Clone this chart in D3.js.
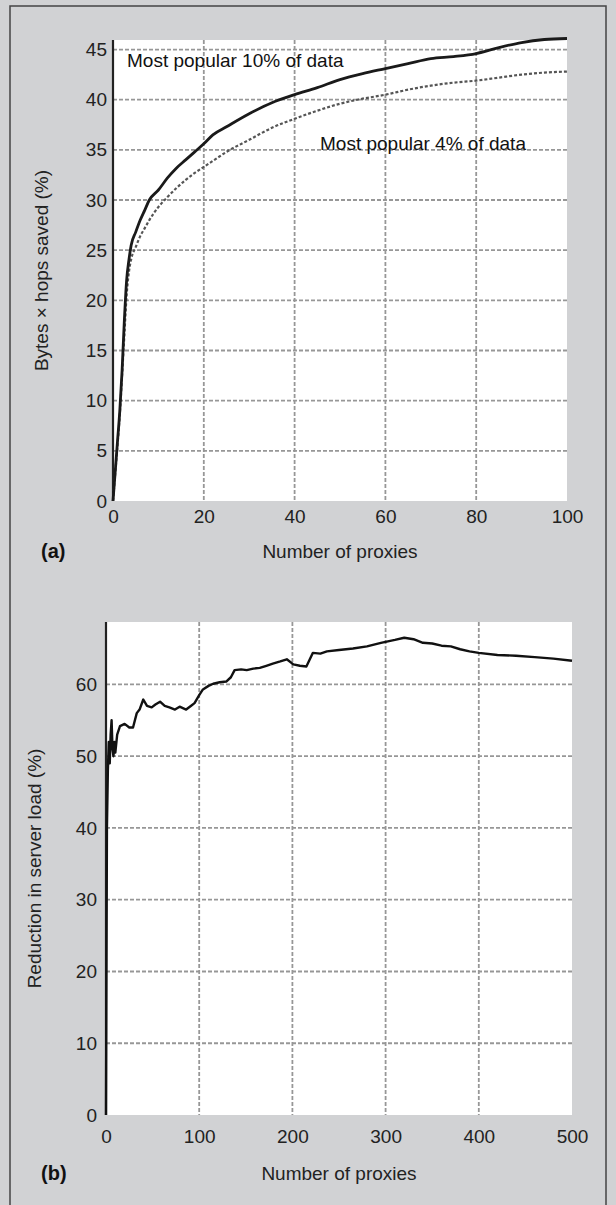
<!DOCTYPE html>
<html>
<head>
<meta charset="utf-8">
<script src="https://cdn.jsdelivr.net/npm/d3@7"></script>
<style>
  html, body { margin: 0; padding: 0; background: #d1d2d4; }
  svg { display: block; font-family: "Liberation Sans", Arial, sans-serif; }
</style>
</head>
<body>
<div id="chart"></div>
<script>
// Panel (a): bytes x hops saved vs number of proxies
const aX = [0, 0.5, 1, 1.5, 2, 2.5, 3, 3.5, 4, 5, 6, 7, 8, 10, 12, 14, 16, 18, 20, 22, 25, 30, 35, 40, 45, 50, 55, 60, 65, 70, 75, 80, 85, 90, 95, 100];
const top10 = [0, 3, 6, 9, 13, 18, 22, 24, 25.5, 26.8, 28, 29, 30, 31, 32.2, 33.2, 34, 34.8, 35.6, 36.5, 37.3, 38.6, 39.7, 40.5, 41.2, 42, 42.6, 43.1, 43.6, 44.1, 44.3, 44.6, 45.2, 45.7, 46, 46.1];
const top4 = [0, 2.8, 5.6, 8.6, 12.5, 16.5, 20.5, 22.8, 24.1, 25.3, 26.4, 27.2, 28, 29.3, 30.3, 31.2, 32, 32.7, 33.3, 33.9, 34.8, 36, 37.2, 38.1, 38.9, 39.6, 40.1, 40.5, 41, 41.4, 41.7, 41.9, 42.2, 42.5, 42.7, 42.8];
const aXTicks = [0, 20, 40, 60, 80, 100];
const aYTicks = [0, 5, 10, 15, 20, 25, 30, 35, 40, 45];

// Panel (b): reduction in server load vs number of proxies
const bX = [0, 0.5, 1, 2, 3, 4, 5, 6, 7, 8, 9, 10, 12, 15, 20, 25, 29, 33, 36, 40, 44, 49, 53, 58, 63, 68, 74, 79, 86, 91, 95, 100, 104, 110, 115, 122, 129, 134, 138, 145, 151, 158, 165, 172, 179, 187, 194, 201, 208, 215, 222, 230, 237, 250, 265, 280, 295, 310, 320, 330, 340, 350, 360, 370, 380, 390, 400, 420, 440, 460, 480, 500];
const load = [0, 20, 40, 48, 52, 49, 53, 55, 51, 50, 52, 50.5, 53, 54.2, 54.5, 54, 54, 56, 56.5, 57.9, 57, 56.8, 57.2, 57.6, 57, 56.8, 56.5, 56.9, 56.5, 57, 57.4, 58.5, 59.3, 59.8, 60.1, 60.3, 60.4, 61, 62, 62.1, 62, 62.2, 62.3, 62.6, 62.9, 63.2, 63.5, 62.8, 62.6, 62.5, 64.4, 64.3, 64.6, 64.8, 65, 65.3, 65.8, 66.2, 66.5, 66.3, 65.8, 65.7, 65.4, 65.3, 64.9, 64.6, 64.4, 64.1, 64, 63.8, 63.6, 63.3];
const bXTicks = [0, 100, 200, 300, 400, 500];
const bYTicks = [0, 10, 20, 30, 40, 50, 60];

const W = 616, H = 1205;
const FS = 19;
const svg = d3.select("#chart").append("svg")
  .attr("width", W).attr("height", H)
  .attr("viewBox", [0, 0, W, H]);

// outer frame
svg.append("rect").attr("width", W).attr("height", H).attr("fill", "#d1d2d4");
svg.append("path")
  .attr("d", `M10,${H + 2}V6H606V${H + 2}`)
  .attr("fill", "none").attr("stroke", "#444").attr("stroke-width", 1.5);

function panel(opt) {
  const x = d3.scaleLinear().domain(opt.xDomain).range([opt.left, opt.right]);
  const y = d3.scaleLinear().domain(opt.yDomain).range([opt.bottom, opt.top]);
  const g = svg.append("g");

  g.append("rect")
    .attr("x", opt.left).attr("y", opt.top)
    .attr("width", opt.right - opt.left).attr("height", opt.bottom - opt.top)
    .attr("fill", "#fff");

  // grid
  const grid = g.append("g").attr("stroke", "#979797").attr("stroke-width", 1.8)
    .attr("stroke-dasharray", "4,2");
  grid.selectAll(".gx").data(opt.xTicks.slice(1, -1)).join("line")
    .attr("x1", d => x(d)).attr("x2", d => x(d))
    .attr("y1", opt.top).attr("y2", opt.bottom);
  grid.selectAll(".gy").data(opt.yTicks.slice(1)).join("line")
    .attr("x1", opt.left).attr("x2", opt.right)
    .attr("y1", d => y(d)).attr("y2", d => y(d));

  // axes (labels only)
  const xa = g.append("g").attr("transform", `translate(0,${opt.bottom})`)
    .call(d3.axisBottom(x).tickValues(opt.xTicks).tickSize(0).tickPadding(opt.xPad));
  const ya = g.append("g").attr("transform", `translate(${opt.left},0)`)
    .call(d3.axisLeft(y).tickValues(opt.yTicks).tickSize(0).tickPadding(opt.yPad));
  [xa, ya].forEach(a => {
    a.select(".domain").remove();
    a.selectAll("text").attr("font-size", FS).attr("font-family", "Liberation Sans, Arial, sans-serif").attr("fill", "#222");
  });

  // left axis line
  g.append("line")
    .attr("x1", opt.left).attr("x2", opt.left)
    .attr("y1", opt.top).attr("y2", opt.bottom)
    .attr("stroke", "#222").attr("stroke-width", 2.2);

  g.append("text")
    .attr("x", (opt.left + opt.right) / 2).attr("y", opt.xTitleY)
    .attr("text-anchor", "middle").attr("font-size", FS).attr("fill", "#222")
    .text("Number of proxies");
  g.append("text")
    .attr("transform", `translate(${opt.yTitleX},${(opt.top + opt.bottom) / 2}) rotate(-90)`)
    .attr("text-anchor", "middle").attr("font-size", FS).attr("fill", "#222")
    .text(opt.yTitle);
  g.append("text")
    .attr("x", 41).attr("y", opt.xTitleY)
    .attr("font-size", 20).attr("font-weight", "bold").attr("fill", "#111")
    .text(opt.tag);

  return { x, y, g };
}

// panel (a)
const pa = panel({
  left: 113, right: 567, top: 40, bottom: 501,
  xDomain: [0, 100], yDomain: [0, 45.95],
  xTicks: aXTicks, yTicks: aYTicks, xPad: 9, yPad: 6,
  xTitleY: 558, yTitleX: 48, yTitle: "Bytes \u00d7 hops saved (%)", tag: "(a)"
});
const lineA = d3.line().x(d => pa.x(d[0])).y(d => pa.y(d[1])).curve(d3.curveMonotoneX);
pa.g.append("path").datum(aX.map((v, i) => [v, top4[i]]))
  .attr("d", lineA).attr("fill", "none").attr("stroke", "#555")
  .attr("stroke-width", 2.2).attr("stroke-dasharray", "3,2");
pa.g.append("path").datum(aX.map((v, i) => [v, top10[i]]))
  .attr("d", lineA).attr("fill", "none").attr("stroke", "#1a1a1a")
  .attr("stroke-width", 2.8);
pa.g.append("text").attr("x", 127).attr("y", 67).attr("font-size", FS).attr("fill", "#111")
  .text("Most popular 10% of data");
pa.g.append("text").attr("x", 320).attr("y", 150).attr("font-size", FS).attr("fill", "#111")
  .text("Most popular 4% of data");

// panel (b)
const pb = panel({
  left: 106, right: 572, top: 622, bottom: 1115,
  xDomain: [0, 500], yDomain: [0, 68.7],
  xTicks: bXTicks, yTicks: bYTicks, xPad: 15, yPad: 9,
  xTitleY: 1180, yTitleX: 41, yTitle: "Reduction in server load (%)", tag: "(b)"
});
const lineB = d3.line().x(d => pb.x(d[0])).y(d => pb.y(d[1]));
pb.g.append("path").datum(bX.map((v, i) => [v, load[i]]))
  .attr("d", lineB).attr("fill", "none").attr("stroke", "#111")
  .attr("stroke-width", 2.4).attr("stroke-linejoin", "round");
</script>
</body>
</html>
